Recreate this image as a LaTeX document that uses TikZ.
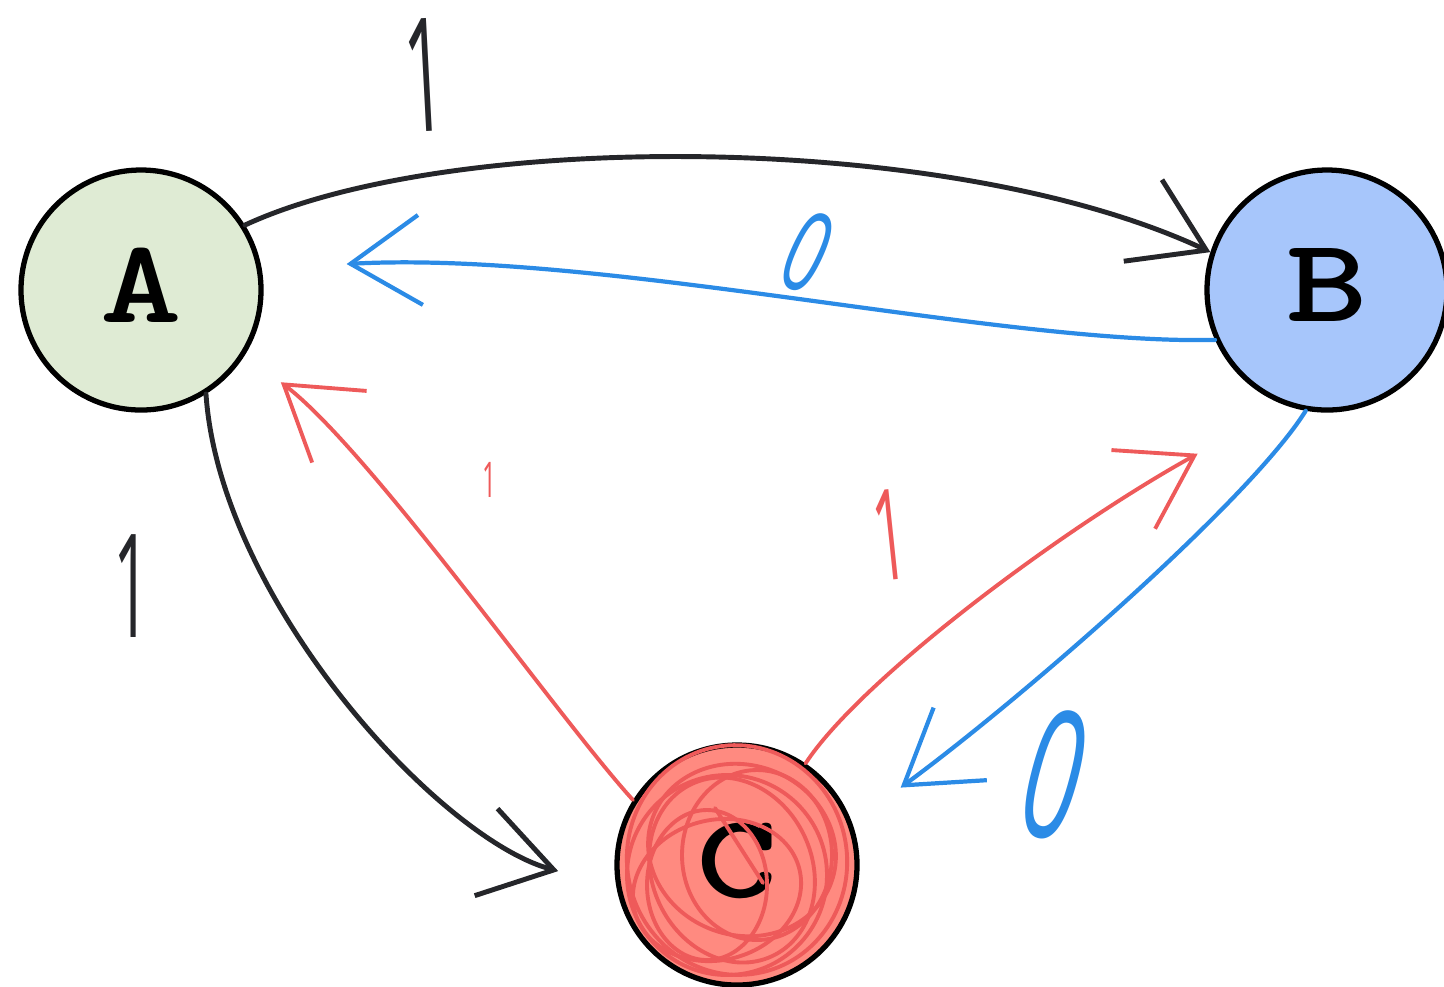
\documentclass[tikz,border=0pt]{standalone}
\usepackage{fontspec}
\newfontfamily\handfont{Open Sans}
\usetikzlibrary{arrows.meta}
\definecolor{cink}{HTML}{25262A}
\definecolor{cblue}{HTML}{2B8BE6}
\definecolor{cred}{HTML}{EE5A5A}
\definecolor{cgreen}{HTML}{DFEBD4}
\definecolor{csky}{HTML}{A7C6FB}
\definecolor{csalmon}{HTML}{FF8A80}
\newcommand{\handsz}[1]{\handfont\fontsize{#1}{#1}\selectfont}
\newcommand{\wide}[1]{\raisebox{0.1cm}{\scalebox{1.3}[1]{#1}}}
\tikzset{
  every picture/.style={line cap=round, line join=round},
  state/.style={circle, draw=black, line width=1.5pt, fill=#1, minimum size=2.4cm, inner sep=0pt, font=\ttfamily\bfseries\fontsize{34}{34}\selectfont},
  edge/.style={draw=#1, -{Straight Barb[length=7mm, width=9mm]}},
  lbl/.style={text=#1, inner sep=0pt},
  scribble/.style={draw=cred, line width=1.1pt},
}

\begin{document}
\begin{tikzpicture}
  \useasboundingbox (0,0) rectangle (14.44,-9.86);
  \node[state=cgreen] (A) at (1.41,-2.90) {\wide{A}};
  \node[state=csky] (B) at (13.27,-2.90) {\wide{B}};
  \node[state=csalmon] (C) at (7.37,-8.65) {\wide{C}};
  \begin{scope}[shift={(C.center)}]
    \draw[scribble] (0,0.05) ellipse [x radius=1.1cm, y radius=1.15cm, rotate=10];
    \draw[scribble] (-0.1,-0.1) ellipse [x radius=1.0cm, y radius=1.0cm];
    \draw[scribble] (-0.2,-0.25) ellipse [x radius=0.85cm, y radius=0.7cm, rotate=15];
    \draw[scribble] (0.05,0.15) ellipse [x radius=0.95cm, y radius=0.85cm, rotate=-20];
    \draw[scribble] (-0.05,-0.05) ellipse [x radius=0.8cm, y radius=0.95cm, rotate=25];
    \draw[scribble] (0.2,0.1) ellipse [x radius=0.75cm, y radius=0.85cm];
    \draw[scribble] (-0.3,-0.2) ellipse [x radius=0.6cm, y radius=0.75cm];
    \draw[scribble] (-0.22,0.57) -- (0.26,-0.18);
  \end{scope}

  \draw[edge=cink, line width=1.4pt] (A.32) .. controls (4.5,-1.3) and (9.5,-1.3) .. (B.162);
  \draw[edge=cblue, line width=1.2pt, shorten >=0.85cm] (B.204) .. controls (10.0,-3.45) and (6.0,-2.5) .. (A.10);
  \draw[edge=cink, line width=1.4pt, shorten >=0.6cm] (A.-58) .. controls (2.2,-6.0) and (4.4,-8.4) .. (C.190);
  \draw[edge=cred, line width=1.1pt, shorten >=0.45cm] (C.148) .. controls (5.6,-7.2) and (3.7,-4.5) .. (A.-32);
  \draw[edge=cred, line width=1.1pt, shorten >=1.0cm] (C.56) .. controls (8.6,-6.8) and (10.6,-5.3) .. (B.250);
  \draw[edge=cblue, line width=1.2pt, shorten >=0.6cm] (B.-100) .. controls (12.5,-5.0) and (10.2,-7.0) .. (C.20);

  \node[lbl=cink, font=\handsz{45}, rotate=3] (l1) at (4.25,-0.75) {\scalebox{0.45}[1]{1}};
  \node[lbl=cblue, font=\handsz{32}, rotate=-25] (l2) at (8.08,-2.52) {\scalebox{0.6}[1]{0}};
  \node[lbl=cink, font=\handsz{41}] (l3) at (1.32,-5.86) {\scalebox{0.45}[1]{1}};
  \node[lbl=cred, font=\handsz{14}] (l4) at (4.9,-4.8) {\scalebox{0.5}[1]{1}};
  \node[lbl=cred, font=\handsz{36}, rotate=6] (l5) at (8.9,-5.35) {\scalebox{0.45}[1]{1}};
  \node[lbl=cblue, font=\handsz{51}, rotate=-15] (l6) at (10.55,-7.75) {\scalebox{0.55}[1]{0}};
\end{tikzpicture}
\end{document}
